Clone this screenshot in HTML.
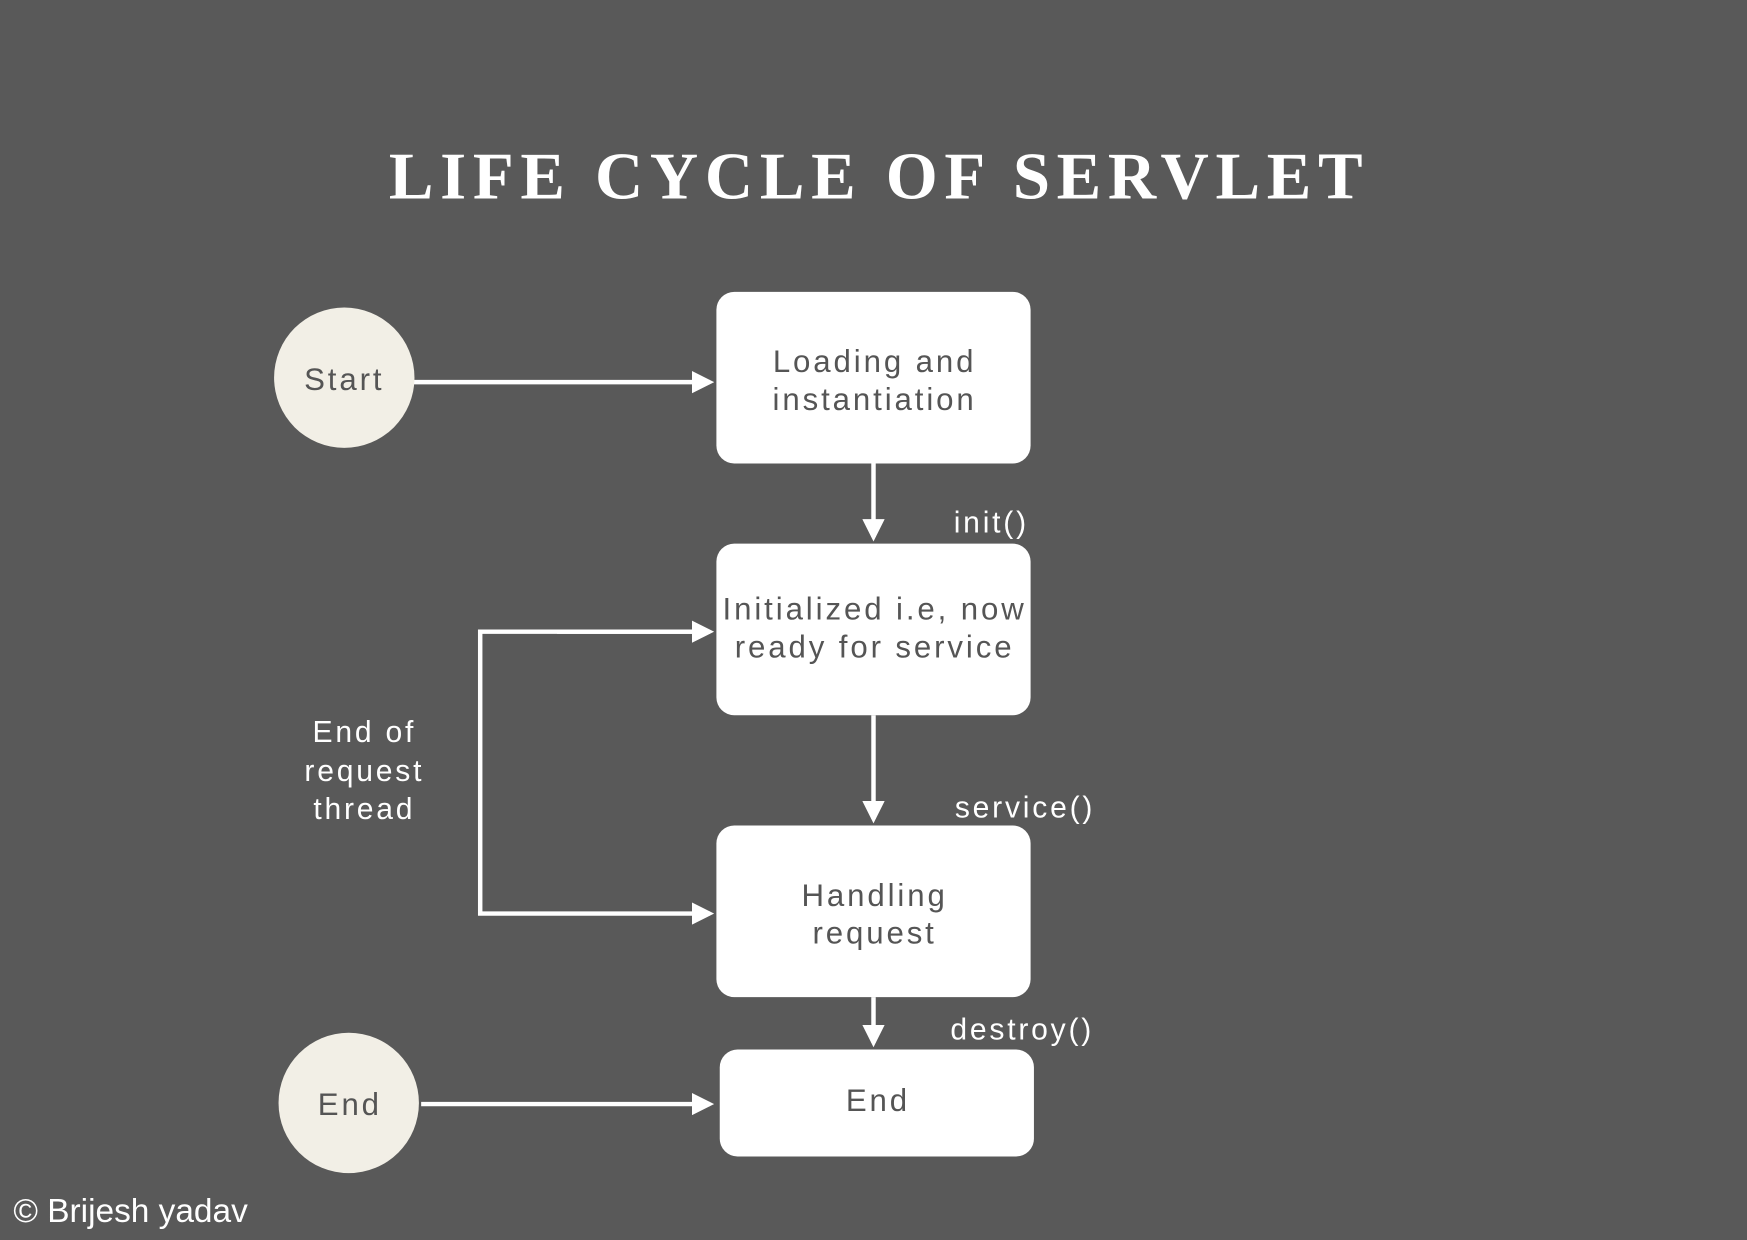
<!DOCTYPE html>
<html><head><meta charset="utf-8"><style>
html,body{margin:0;padding:0;background:#595959;width:1747px;height:1240px;overflow:hidden}
svg{display:block}
.t{font-family:"Liberation Sans","DejaVu Sans",sans-serif;font-size:28px;fill:#555;letter-spacing:2.6px;text-anchor:middle}
.w{font-family:"Liberation Sans","DejaVu Sans",sans-serif;font-size:27px;fill:#fff;letter-spacing:2.5px}
</style></head><body>
<svg width="1747" height="1240" viewBox="0 0 1568 1113" preserveAspectRatio="none" xmlns="http://www.w3.org/2000/svg">
<defs><marker id="a" markerWidth="5" markerHeight="5" refX="4" refY="2.5" orient="auto" markerUnits="strokeWidth"><path d="M0,0 L5,2.5 L0,5 Z" fill="#fff"/></marker></defs>
<rect width="1568" height="1113" fill="#595959"/>
<text x="789" y="178" text-anchor="middle" font-family="Liberation Serif,serif" font-weight="bold" font-size="60" letter-spacing="6" fill="#fff">LIFE CYCLE OF SERVLET</text>
<g stroke="#fff" stroke-width="4" fill="none">
<line x1="357" y1="343" x2="637" y2="343" marker-end="url(#a)"/>
<line x1="784" y1="416" x2="784" y2="482" marker-end="url(#a)"/>
<line x1="784" y1="642" x2="784" y2="735" marker-end="url(#a)"/>
<line x1="784" y1="895" x2="784" y2="936" marker-end="url(#a)"/>
<line x1="378" y1="991" x2="637" y2="991" marker-end="url(#a)"/>
<path d="M637,567 L431,567 L431,820 L637,820" marker-end="url(#a)"/>
<line x1="500" y1="567" x2="637" y2="567" marker-end="url(#a)"/>
</g>
<circle cx="309" cy="339" r="63" fill="#f2efe6"/>
<text class="t" x="309" y="350">Start</text>
<circle cx="313" cy="990" r="63" fill="#f2efe6"/>
<text class="t" x="314" y="1001">End</text>
<rect x="643" y="262" width="282" height="154" rx="16" fill="#fff"/>
<text class="t" x="785" y="334">Loading and</text>
<text class="t" x="785" y="368">instantiation</text>
<rect x="643" y="488" width="282" height="154" rx="16" fill="#fff"/>
<text class="t" x="785" y="556">Initialized i.e, now</text>
<text class="t" x="785" y="590">ready for service</text>
<rect x="643" y="741" width="282" height="154" rx="16" fill="#fff"/>
<text class="t" x="785" y="813">Handling</text>
<text class="t" x="785" y="847">request</text>
<rect x="646" y="942" width="282" height="96" rx="16" fill="#fff"/>
<text class="t" x="788" y="997">End</text>
<text class="w" x="856" y="478">init()</text>
<text class="w" x="857" y="734">service()</text>
<text class="w" x="853" y="933">destroy()</text>
<text class="w" x="327" y="666" text-anchor="middle">End of</text>
<text class="w" x="327" y="701" text-anchor="middle">request</text>
<text class="w" x="327" y="735" text-anchor="middle">thread</text>
<text x="12" y="1097" font-family="Liberation Sans,sans-serif" font-size="30" fill="#fff">© Brijesh yadav</text>
</svg>
</body></html>
